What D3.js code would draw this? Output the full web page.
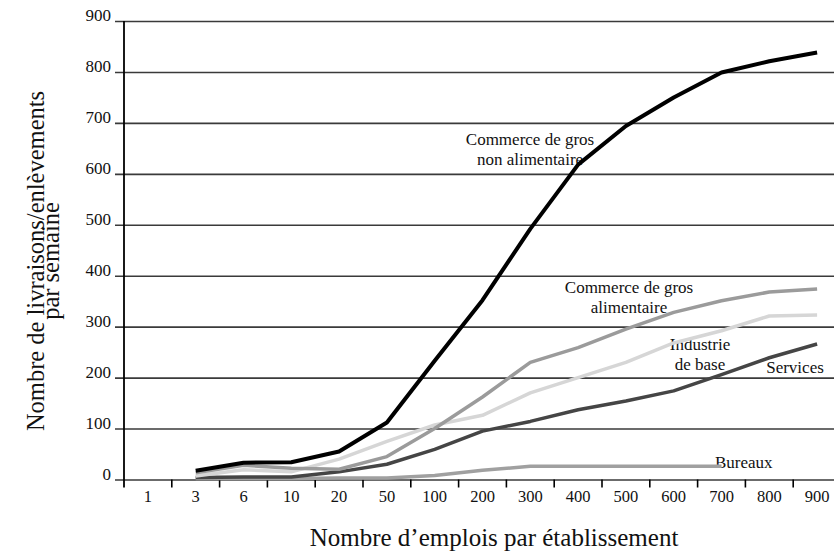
<!DOCTYPE html>
<html>
<head>
<meta charset="utf-8">
<script src="https://cdn.jsdelivr.net/npm/d3@7"></script>
<style>
  html, body { margin: 0; padding: 0; background: #fff; }
  svg { display: block; font-family: "Liberation Serif", "Times New Roman", serif; }
</style>
</head>
<body>
<svg id="chart" width="834" height="553"></svg>
<script>
// Employment size classes (x categories)
const categories = ["1", "3", "6", "10", "20", "50", "100", "200", "300", "400", "500", "600", "700", "800", "900"];
const yTicks = [0, 100, 200, 300, 400, 500, 600, 700, 800, 900];

// Weekly deliveries/pickups per establishment, by sector (null = no data)
const grosNonAlim = [null, 17, 33, 34, 55, 112, 233, 352, 492, 618, 694, 750, 799, 821, 838];
const grosAlim    = [null, 13, 28, 22, 20, 45, 100, 162, 230, 259, 295, 328, 351, 368, 374];
const industrie   = [null, 7, 19, 15, 40, 75, 107, 126, 170, 200, 230, 268, 292, 321, 323];
const services    = [null, 4, 5, 5, 15, 30, 59, 95, 114, 137, 154, 174, 206, 239, 266];
const bureaux     = [null, 2, 2, 2, 3, 3, 8, 18, 26, 26, 26, 26, 26, null, null];

const seriesValues = [grosNonAlim, grosAlim, industrie, services, bureaux];
const seriesColors = ["#000000", "#9b9b9b", "#d6d6d6", "#454545", "#a0a0a0"];
const seriesWidths = [4, 3.5, 3.5, 3.5, 3.5];

const svg = d3.select("#chart");
const W = 834;

const x = d3.scaleBand().domain(categories).range([124, 841]).padding(0);
const y = d3.scaleLinear().domain([0, 900]).range([479.5, 21]);
const cx = c => x(c) + x.bandwidth() / 2;

// Horizontal gridlines with value labels
const yAxis = svg.append("g")
  .attr("transform", "translate(124,0)")
  .call(d3.axisLeft(y).tickValues(yTicks).tickFormat(d3.format("d")).tickSize(0).tickPadding(13));
yAxis.select(".domain").remove();
yAxis.selectAll(".tick line")
  .attr("x1", -9).attr("x2", W - 124)
  .attr("stroke", "#3a3a3a").attr("stroke-width", 1.6);
yAxis.selectAll(".tick text")
  .attr("dy", "-0.02em")
  .attr("font-size", 17)
  .attr("font-family", "Liberation Serif, serif")
  .attr("fill", "#111");

// Vertical axis line
svg.append("line")
  .attr("x1", 124).attr("x2", 124)
  .attr("y1", y(900)).attr("y2", y(0) + 8)
  .attr("stroke", "#000").attr("stroke-width", 1.8);

// Category boundary ticks under the baseline
svg.append("g").selectAll("line")
  .data(categories.slice(1))
  .join("line")
  .attr("x1", d => x(d)).attr("x2", d => x(d))
  .attr("y1", y(0)).attr("y2", y(0) + 8)
  .attr("stroke", "#000").attr("stroke-width", 1.6);

// Category labels
const xAxis = svg.append("g")
  .attr("transform", `translate(0,${y(0)})`)
  .call(d3.axisBottom(x).tickSize(0).tickPadding(11));
xAxis.select(".domain").remove();
xAxis.selectAll(".tick text")
  .attr("font-size", 16.5)
  .attr("font-family", "Liberation Serif, serif")
  .attr("fill", "#111");

// Series labels
const labelGroup = svg.append("g")
  .attr("font-size", 17)
  .attr("fill", "#111");
const seriesLabels = [
  { lines: ["Commerce de gros", "non alimentaire"], x: 530, y: 145, anchor: "middle" },
  { lines: ["Commerce de gros", "alimentaire"], x: 629, y: 293, anchor: "middle" },
  { lines: ["Industrie", "de base"], x: 700, y: 350, anchor: "middle" },
  { lines: ["Services"], x: 795, y: 373, anchor: "middle" },
  { lines: ["Bureaux"], x: 715, y: 468, anchor: "start" }
];
seriesLabels.forEach(l => {
  const t = labelGroup.append("text")
    .attr("x", l.x).attr("y", l.y)
    .attr("text-anchor", l.anchor);
  l.lines.forEach((s, i) => {
    t.append("tspan").attr("x", l.x).attr("dy", i === 0 ? 0 : 20).text(s);
  });
});

// Series lines, darkest drawn last
const line = d3.line()
  .defined(d => d.v !== null)
  .x(d => cx(d.c))
  .y(d => y(d.v))
  .curve(d3.curveLinear);

[4, 3, 2, 1, 0].forEach(i => {
  const pts = categories.map((c, j) => ({ c, v: seriesValues[i][j] }));
  svg.append("path")
    .datum(pts)
    .attr("d", line)
    .attr("fill", "none")
    .attr("stroke", seriesColors[i])
    .attr("stroke-width", seriesWidths[i])
    .attr("stroke-linejoin", "round")
    .attr("stroke-linecap", "butt");
});

// Axis titles
svg.append("text")
  .attr("x", 494).attr("y", 546)
  .attr("text-anchor", "middle")
  .attr("font-size", 25)
  .attr("fill", "#111")
  .text("Nombre d’emplois par établissement");

const yTitle = svg.append("text")
  .attr("transform", "translate(44,261) rotate(-90)")
  .attr("text-anchor", "middle")
  .attr("font-size", 24.5)
  .attr("fill", "#111");
yTitle.append("tspan").attr("x", 0).attr("y", 0).text("Nombre de livraisons/enlèvements");
yTitle.append("tspan").attr("x", 0).attr("y", 15).text("par semaine");
</script>
</body>
</html>
